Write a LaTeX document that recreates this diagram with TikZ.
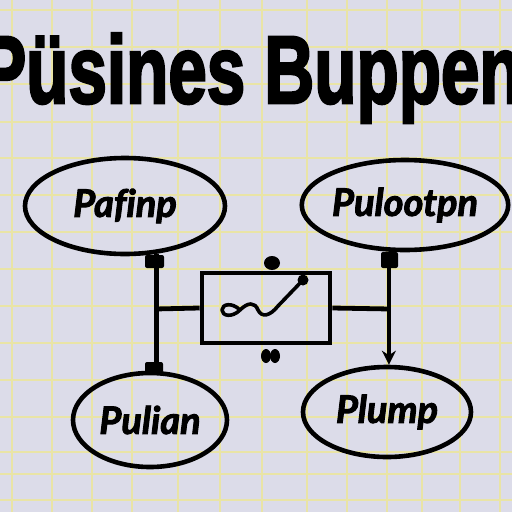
\documentclass[tikz,border=0pt]{standalone}
\usepackage{fontspec}
\usetikzlibrary{shapes.geometric,arrows.meta}
\newfontfamily\titlefont{Liberation Sans}[BoldFeatures={FakeBold=3}]
\newfontfamily\labfont{Lato}[Ligatures={NoCommon}, BoldItalicFeatures={FakeBold=2.5}]
\definecolor{paper}{HTML}{DCDCE9}
\definecolor{gridy}{HTML}{E9E4A6}
\tikzset{
  oval/.style={ellipse, draw=black, line width=4.6pt, inner sep=0pt,
    font=\labfont\bfseries\itshape\fontsize{38}{38}\selectfont},
  wire/.style={line width=4.8pt, draw=black},
  blob/.style={fill=black, rounded corners=2pt}
}
\begin{document}
\begin{tikzpicture}[x=1pt,y=-1pt]
\useasboundingbox (0,0) rectangle (512,512);
\clip (0,0) rectangle (512,512);
\fill[paper] (0,0) rectangle (512,512);
% grid
\foreach \gx in {12,52,92,132,178,220,262,307,347,387,422,460,500}
  \draw[gridy, line width=1.1pt] (\gx,0) -- (\gx,512);
\foreach \gy in {10,47,84,122,158,195,232,269,306,343,380,417,452,474,500}
  \draw[gridy, line width=1.1pt] (0,\gy) -- (512,\gy);
% title
\node[anchor=base west, inner sep=0pt, xscale=0.72,
  font=\titlefont\bfseries\fontsize{96}{96}\selectfont] (title) at (-20,103) {Püsines Buppen};
% ellipses
\node[oval, minimum width=200pt, minimum height=96pt] (tl) at (125,206) {Pafinp};
\node[oval, minimum width=182pt, minimum height=90pt] (tr) at (405,205) {Pulootpn};
\node[oval, minimum width=154pt, minimum height=94pt] (bl) at (150,420) {Pulian};
\node[oval, minimum width=168pt, minimum height=90pt] (br) at (387,412) {Plump};
% central box
\node[draw=black, line width=4.6pt, minimum width=128pt, minimum height=70pt, inner sep=0pt] (box) at (266,308) {};
% connection coordinates
\coordinate (lx) at (155,309);
\coordinate (rx) at (390,309);
% vertical wires
\draw[wire] (tl.-57) -- (tl.-57 |- bl.north);
\draw[wire, -{Stealth[length=14pt,width=14pt]}] (tr.-109) -- (tr.-109 |- br.north);
% horizontal wires
\draw[wire] (lx) -- (box.west);
\draw[wire] (box.east) -- (rx);
% blobs on wires
\fill[blob] (145,255) rectangle (164,268);
\fill[blob] (381,252) rectangle (398,268);
\fill[blob] (145,362) rectangle (163,373);
% blobs above and below box
\fill (272,263) ellipse (8pt and 7pt);
\fill (266,356) ellipse (5pt and 7pt);
\fill (275,356) ellipse (5pt and 7pt);
% squiggle
\draw[line width=3.6pt, line cap=round, line join=round]
  (240,310) .. controls (232,302) and (222,304) .. (222,310)
  .. controls (222,316) and (232,318) .. (240,310)
  .. controls (248,302) and (255,302) .. (258,310)
  .. controls (262,318) and (270,316) .. (278,306) -- (303,280);
\fill (303,280) circle (5.5pt);
\end{tikzpicture}
\end{document}
